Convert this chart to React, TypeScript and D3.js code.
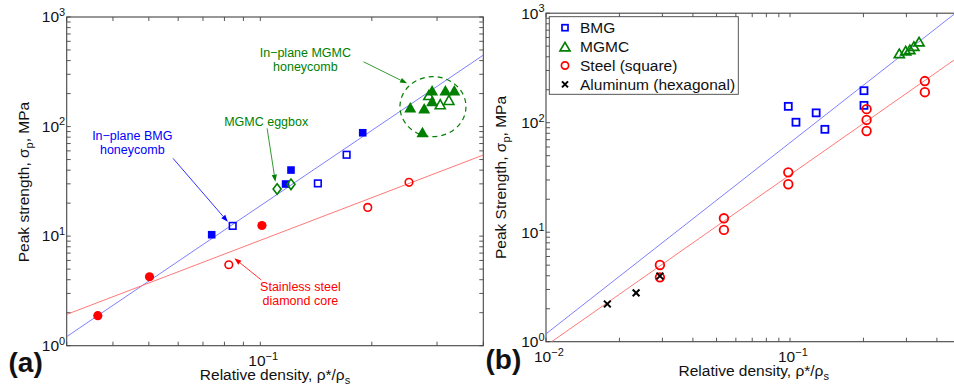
import * as d3 from "d3";

type Pt = [number, number];

const FONT = "'Liberation Sans', Arial, Helvetica, sans-serif";
const BLUE = "#0000ff";
const GREEN = "#007f00";
const RED = "#ff0000";
const FIT_BLUE = "#7070ff";
const FIT_RED = "#ff6a6a";

/* ---------------- panel (a) data ---------------- */
const bmgSolidA: Pt[] = [[0.0739, 10.3], [0.117, 29.9], [0.121, 40.1], [0.189, 87.8]];
const bmgOpenA: Pt[] = [[0.0842, 12.4], [0.143, 30.3], [0.171, 55.3]];
const eggboxA: Pt[] = [[0.111, 26.9], [0.121, 29.7]];
const mgmcSolidA: Pt[] = [[0.254, 150], [0.274, 89], [0.277, 147], [0.291, 215], [0.291, 171], [0.316, 215], [0.334, 215]];
const mgmcOpenA: Pt[] = [[0.285, 194], [0.306, 160], [0.323, 175]];
const steelSolidA: Pt[] = [[0.0364, 1.88], [0.0502, 4.26], [0.101, 12.5]];
const steelOpenA: Pt[] = [[0.0822, 5.48], [0.195, 18.3], [0.252, 31.0]];
const fitBlueA: Pt[] = [[0.03, 1.21], [0.4, 449]];
const fitRedA: Pt[] = [[0.03, 1.93], [0.4, 55]];

/* annotations: text anchor, arrow start, arrow end (data units) */
const notesA = [
  { lines: ["In\u2212plane MGMC", "honeycomb"], color: GREEN, at: [0.1323, 428] as Pt, from: [0.19, 390] as Pt, to: [0.249, 248] as Pt },
  { lines: ["MGMC eggbox"], color: GREEN, at: [0.1037, 101] as Pt, from: [0.1043, 96.3] as Pt, to: [0.1098, 31.4] as Pt },
  { lines: ["In\u2212plane BMG", "honeycomb"], color: BLUE, at: [0.0451, 75.3] as Pt, from: [0.0581, 51.3] as Pt, to: [0.0817, 13.5] as Pt },
  { lines: ["Stainless steel", "diamond core"], color: RED, at: [0.1283, 3.16] as Pt, from: [0.1006, 3.98] as Pt, to: [0.0851, 6.27] as Pt },
];
const clusterA: Pt = [0.2925, 152];

/* ---------------- panel (b) data ---------------- */
const bmgB: Pt[] = [[0.0984, 141], [0.1058, 101], [0.128, 123], [0.139, 87], [0.201, 196], [0.201, 144]];
const mgmcB: Pt[] = [[0.2805, 430], [0.298, 455], [0.31, 468], [0.322, 501], [0.338, 550]];
const steelB: Pt[] = [
  [0.0293, 5.02], [0.0293, 3.87], [0.0536, 13.4], [0.0536, 10.5], [0.0984, 35.2], [0.0984, 27.4],
  [0.206, 133], [0.206, 106], [0.206, 84], [0.357, 240], [0.357, 190],
];
const aluB: Pt[] = [[0.01784, 2.21], [0.0234, 2.79], [0.0293, 3.98]];
const fitBlueB: Pt[] = [[0.01, 1.18], [0.5, 1089]];
const fitRedB: Pt[] = [[0.01, 0.92], [0.5, 411]];
const legendB = ["BMG", "MGMC", "Steel (square)", "Aluminum (hexagonal)"];

/* ---------------- scales ---------------- */
const xA = d3.scaleLog().domain([0.03, 0.4]).range([66.7, 483.3]);
const yA = d3.scaleLog().domain([1, 1000]).range([345.7, 17]);
const xB = d3.scaleLog().domain([0.01, 0.5]).range([546, 546 + 244 * Math.log10(50)]);
const yB = d3.scaleLog().domain([1, 1000]).range([341.7, 13.2]);

type S = d3.ScaleLogarithmic<number, number>;

const tri = (cx: number, cy: number, w: number, h: number) =>
  `M${cx},${cy - h / 2}L${cx + w / 2},${cy + h / 2}L${cx - w / 2},${cy + h / 2}Z`;
const dia = (cx: number, cy: number, w: number, h: number) =>
  `M${cx},${cy - h / 2}L${cx + w / 2},${cy}L${cx},${cy + h / 2}L${cx - w / 2},${cy}Z`;

function Pow({ x, y, exp, anchor }: { x: number; y: number; exp: string; anchor: "start" | "end" }) {
  return (
    <text x={x} y={y} textAnchor={anchor} fontSize={15.5} fill="#111">
      <tspan>10</tspan>
      <tspan dy={-6.5} fontSize={11}>{exp}</tspan>
    </text>
  );
}

function Frame({ x, y, id }: { x: S; y: S; id: string }) {
  const [l, r] = x.range();
  const [b, t] = y.range();
  const tl = 4;
  const xt = x.ticks();
  const yt = y.ticks();
  const isPow = (v: number) => Math.abs(Math.log10(v) - Math.round(Math.log10(v))) < 1e-6;
  return (
    <g>
      <clipPath id={id}>
        <rect x={l} y={t} width={r - l} height={b - t} />
      </clipPath>
      <g stroke="#444" strokeWidth={0.9}>
        {xt.map((v, i) => (
          <g key={"x" + i}>
            <line x1={x(v)} x2={x(v)} y1={b} y2={b - tl} />
            <line x1={x(v)} x2={x(v)} y1={t} y2={t + tl} />
          </g>
        ))}
        {yt.map((v, i) => (
          <g key={"y" + i}>
            <line x1={l} x2={l + tl} y1={y(v)} y2={y(v)} />
            <line x1={r} x2={r - tl} y1={y(v)} y2={y(v)} />
          </g>
        ))}
        <rect x={l} y={t} width={r - l} height={b - t} fill="none" strokeWidth={1.1} />
      </g>
      {yt.filter(isPow).map((v, i) => (
        <Pow key={"yl" + i} x={l - 1.5} y={y(v) + 5.3} exp={String(Math.round(Math.log10(v)))} anchor="end" />
      ))}
      {xt.filter(isPow).map((v, i) => (
        <Pow key={"xl" + i} x={x(v) - 12} y={b + 20.5} exp={"\u2212" + String(-Math.round(Math.log10(v)))} anchor="start" />
      ))}
    </g>
  );
}

function Arrow({ x1, y1, x2, y2, color }: { x1: number; y1: number; x2: number; y2: number; color: string }) {
  const a = Math.atan2(y2 - y1, x2 - x1);
  const L = 7, W = 2.6;
  const bx = x2 - L * Math.cos(a), by = y2 - L * Math.sin(a);
  const px = -Math.sin(a) * W, py = Math.cos(a) * W;
  return (
    <g>
      <line x1={x1} y1={y1} x2={bx} y2={by} stroke={color} strokeWidth={0.8} />
      <path d={`M${x2},${y2}L${bx + px},${by + py}L${bx - px},${by - py}Z`} fill={color} />
    </g>
  );
}

export default function App() {
  const lineA = d3.line<Pt>().x(d => xA(d[0])).y(d => yA(d[1]));
  const lineB = d3.line<Pt>().x(d => xB(d[0])).y(d => yB(d[1]));

  return (
    <svg
      width={954}
      height={389}
      style={{ position: "absolute", left: 0, top: 0, background: "#fff" }}
      fontFamily={FONT}
    >
      <rect width={954} height={389} fill="#fff" />

      {/* ---------------- PANEL (a) ---------------- */}
      <Frame x={xA} y={yA} id="clipA" />
      <g clipPath="url(#clipA)">
        <path d={lineA(fitBlueA) ?? ""} stroke={FIT_BLUE} strokeWidth={0.9} fill="none" />
        <path d={lineA(fitRedA) ?? ""} stroke={FIT_RED} strokeWidth={0.9} fill="none" />
      </g>
      <ellipse
        cx={xA(clusterA[0])}
        cy={yA(clusterA[1])}
        rx={33}
        ry={30}
        fill="none"
        stroke={GREEN}
        strokeWidth={1.2}
        strokeDasharray="5 4"
      />
      {bmgSolidA.map((d, i) => (
        <rect key={"bs" + i} x={xA(d[0]) - 3.8} y={yA(d[1]) - 3.8} width={7.6} height={7.6} fill={BLUE} />
      ))}
      {bmgOpenA.map((d, i) => (
        <rect key={"bo" + i} x={xA(d[0]) - 3.3} y={yA(d[1]) - 3.3} width={6.6} height={6.6} fill="none" stroke={BLUE} strokeWidth={1.6} />
      ))}
      {steelSolidA.map((d, i) => (
        <circle key={"ss" + i} cx={xA(d[0])} cy={yA(d[1])} r={4.6} fill={RED} />
      ))}
      {steelOpenA.map((d, i) => (
        <circle key={"so" + i} cx={xA(d[0])} cy={yA(d[1])} r={3.8} fill="none" stroke={RED} strokeWidth={1.6} />
      ))}
      {eggboxA.map((d, i) => (
        <path key={"eg" + i} d={dia(xA(d[0]), yA(d[1]), 8, 10.5)} fill="none" stroke={GREEN} strokeWidth={1.6} />
      ))}
      {mgmcSolidA.map((d, i) => (
        <path key={"ms" + i} d={tri(xA(d[0]), yA(d[1]), 12, 10.5)} fill={GREEN} />
      ))}
      {mgmcOpenA.map((d, i) => (
        <path key={"mo" + i} d={tri(xA(d[0]), yA(d[1]), 10, 9)} fill="none" stroke={GREEN} strokeWidth={1.6} />
      ))}
      {notesA.map((n, i) => (
        <g key={"n" + i}>
          <text x={xA(n.at[0])} y={yA(n.at[1])} fill={n.color} fontSize={12.5} textAnchor="middle">
            {n.lines.map((s, j) => (
              <tspan key={j} x={xA(n.at[0])} dy={j === 0 ? 0 : 13.6}>{s}</tspan>
            ))}
          </text>
          <Arrow x1={xA(n.from[0])} y1={yA(n.from[1])} x2={xA(n.to[0])} y2={yA(n.to[1])} color={n.color} />
        </g>
      ))}
      <text transform="translate(28.5,182) rotate(-90)" textAnchor="middle" fontSize={15.5} fill="#111">
        Peak strength, σ<tspan dy={4} fontSize={11}>p</tspan><tspan dy={-4}>, MPa</tspan>
      </text>
      <text x={275} y={380} textAnchor="middle" fontSize={15.5} fill="#111">
        Relative density, ρ*/ρ<tspan dy={4} fontSize={11}>s</tspan>
      </text>
      <text x={8.5} y={372} fontSize={28} fontWeight="bold" fill="#111">(a)</text>

      {/* ---------------- PANEL (b) ---------------- */}
      <Frame x={xB} y={yB} id="clipB" />
      <g clipPath="url(#clipB)">
        <path d={lineB(fitBlueB) ?? ""} stroke={FIT_BLUE} strokeWidth={0.9} fill="none" />
        <path d={lineB(fitRedB) ?? ""} stroke={FIT_RED} strokeWidth={0.9} fill="none" />
      </g>
      {bmgB.map((d, i) => (
        <rect key={"bb" + i} x={xB(d[0]) - 3.5} y={yB(d[1]) - 3.5} width={7} height={7} fill="none" stroke={BLUE} strokeWidth={1.8} />
      ))}
      {mgmcB.map((d, i) => (
        <path key={"mb" + i} d={tri(xB(d[0]), yB(d[1]), 10, 8.5)} fill="none" stroke={GREEN} strokeWidth={1.7} />
      ))}
      {steelB.map((d, i) => (
        <circle key={"sb" + i} cx={xB(d[0])} cy={yB(d[1])} r={4.3} fill="none" stroke={RED} strokeWidth={1.8} />
      ))}
      {aluB.map((d, i) => {
        const cx = xB(d[0]), cy = yB(d[1]), s = 3.4;
        return (
          <path key={"ab" + i} d={`M${cx - s},${cy - s}L${cx + s},${cy + s}M${cx - s},${cy + s}L${cx + s},${cy - s}`} stroke="#000" strokeWidth={2} />
        );
      })}

      {/* legend */}
      <g>
        <rect x={549.3} y={16.7} width={189} height={77.6} fill="#fff" stroke="#444" strokeWidth={0.9} />
        {legendB.map((s, i) => {
          const cy = 27.7 + i * 18.9;
          const cx = 565;
          let marker;
          if (i === 0) marker = <rect x={cx - 3} y={cy - 3} width={6} height={6} fill="none" stroke={BLUE} strokeWidth={1.7} />;
          else if (i === 1) marker = <path d={tri(cx, cy, 10, 8.5)} fill="none" stroke={GREEN} strokeWidth={1.7} />;
          else if (i === 2) marker = <circle cx={cx} cy={cy} r={3.6} fill="none" stroke={RED} strokeWidth={1.7} />;
          else marker = <path d={`M${cx - 3},${cy - 3}L${cx + 3},${cy + 3}M${cx - 3},${cy + 3}L${cx + 3},${cy - 3}`} stroke="#000" strokeWidth={2} />;
          return (
            <g key={"lg" + i}>
              {marker}
              <text x={580} y={cy + 5.5} fontSize={15.5} fill="#111">{s}</text>
            </g>
          );
        })}
      </g>

      <text transform="translate(506,177.5) rotate(-90)" textAnchor="middle" fontSize={15.5} fill="#111">
        Peak Strength, σ<tspan dy={4} fontSize={11}>p</tspan><tspan dy={-4}>, MPa</tspan>
      </text>
      <text x={753.7} y={376} textAnchor="middle" fontSize={15.5} fill="#111">
        Relative density, ρ*/ρ<tspan dy={4} fontSize={11}>s</tspan>
      </text>
      <text x={485.5} y={369} fontSize={28} fontWeight="bold" fill="#111">(b)</text>
    </svg>
  );
}
